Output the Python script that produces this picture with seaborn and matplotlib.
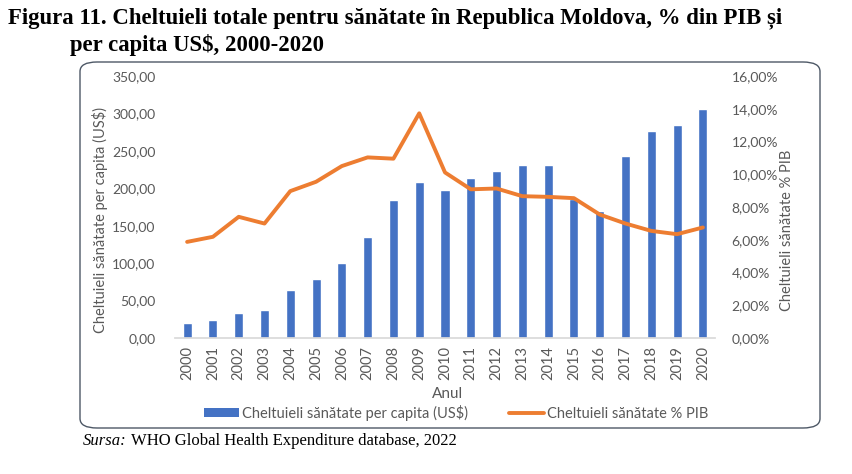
import numpy as np
import pandas as pd
import matplotlib
matplotlib.use('Agg')
import matplotlib.pyplot as plt
import seaborn as sns
from matplotlib.patches import FancyBboxPatch, Patch
from matplotlib.lines import Line2D
from matplotlib.ticker import FuncFormatter

years = [str(y) for y in range(2000, 2021)]
per_capita = [20.5, 24.5, 33.0, 37.9, 63.8, 78.5, 99.9, 134.6, 185.0, 208.2, 197.5,
              214.4, 222.9, 230.9, 230.5, 185.5, 169.9, 243.4, 276.4, 284.0, 306.3]
pct_pib = [5.87, 6.18, 7.40, 6.99, 8.97, 9.54, 10.50, 11.03, 10.95, 13.72, 10.11,
           9.08, 9.13, 8.66, 8.62, 8.54, 7.54, 6.99, 6.54, 6.34, 6.75]

BLUE = '#4472C4'
ORANGE = '#ED7D31'
GREY = '#595959'
W, H = 852, 474

sns.set_theme(style='white')
plt.rcParams['font.family'] = ['Lato', 'DejaVu Sans']

df = pd.DataFrame({'an': years, 'per_capita': per_capita, 'pct': pct_pib})
df['pos'] = np.arange(len(df))

fig = plt.figure(figsize=(W / 100, H / 100), dpi=100)

# rounded chart frame
box = FancyBboxPatch((80 / W, 1 - 428 / H), (820 - 80) / W, (428 - 62) / H,
                     boxstyle='round,pad=0,rounding_size=0.02',
                     transform=fig.transFigure, facecolor='none',
                     edgecolor='#4d5866', linewidth=1.0)
fig.patches.append(box)

ax = fig.add_axes([175 / W, 1 - 338 / H, (715 - 175) / W, (338 - 76) / H])
sns.barplot(data=df, x='an', y='per_capita', color=BLUE, width=0.35,
            saturation=1, ax=ax)
ax.set_ylim(0, 350)
ax.set_yticks(np.arange(0, 351, 50))
ax.yaxis.set_major_formatter(FuncFormatter(lambda v, p: f'{v:.2f}'.replace('.', ',')))
ax.set_xlim(-0.47, 20.47)
ax.set_xlabel('')
ax.set_ylabel('')
ax.tick_params(axis='x', rotation=90, labelsize=10.5, colors=GREY, length=0, pad=6)
ax.tick_params(axis='y', labelsize=10, colors=GREY, length=0, pad=14)
for s in ['top', 'right', 'left']:
    ax.spines[s].set_visible(False)
ax.spines['bottom'].set_color('#D9D9D9')

ax2 = ax.twinx()
sns.lineplot(data=df, x='pos', y='pct', color=ORANGE, linewidth=2.8, ax=ax2)
ax2.set_ylim(0, 16)
ax2.set_yticks(np.arange(0, 17, 2))
ax2.yaxis.set_major_formatter(FuncFormatter(lambda v, p: f'{v:.2f}%'.replace('.', ',')))
ax2.set_xlim(-0.47, 20.47)
ax2.set_xlabel('')
ax2.set_ylabel('')
ax2.tick_params(axis='y', labelsize=10, colors=GREY, length=0, pad=12)
for s in ['top', 'right', 'left', 'bottom']:
    ax2.spines[s].set_visible(False)

fig.text(100 / W, 1 - 220 / H, 'Cheltuieli sănătate per capita (US\\$)', rotation=90,
         ha='center', va='center', fontsize=10.5, color=GREY)
fig.text(787 / W, 1 - 230 / H, 'Cheltuieli sănătate % PIB', rotation=90,
         ha='center', va='center', fontsize=10.5, color=GREY)
fig.text(448 / W, 1 - 394 / H, 'Anul', ha='center', va='center', fontsize=11, color=GREY)

handles = [Patch(facecolor=BLUE, edgecolor='none'),
           Line2D([0], [0], color=ORANGE, linewidth=2.8)]
labels = ['Cheltuieli sănătate per capita (US\\$)', 'Cheltuieli sănătate % PIB']
fig.legend(handles, labels, loc='center', bbox_to_anchor=(456 / W, 1 - 413 / H),
           ncol=2, frameon=False, fontsize=10.5, labelcolor=GREY,
           handlelength=2.4, handleheight=0.6, handletextpad=0.2, columnspacing=2.8)

# title
fig.text(8 / W, 1 - 18 / H,
         'Figura 11. Cheltuieli totale pentru sănătate în Republica Moldova, % din PIB și',
         ha='left', va='center', fontsize=16.4, fontweight='bold',
         family='Liberation Serif', color='black')
fig.text(70 / W, 1 - 45 / H, 'per capita US\\$, 2000-2020',
         ha='left', va='center', fontsize=16.4, fontweight='bold',
         family='Liberation Serif', color='black')

# source
t1 = fig.text(83 / W, 1 - 441 / H, 'Sursa:', ha='left', va='center', fontsize=12,
              style='italic', family='Liberation Serif', color='black')
r = fig.canvas.get_renderer()
bb = t1.get_window_extent(renderer=r)
fig.text((bb.x1 + 4) / W, 1 - 441 / H, 'WHO Global Health Expenditure database, 2022',
         ha='left', va='center', fontsize=12, family='Liberation Serif', color='black')

fig.savefig('out.png', dpi=100)
